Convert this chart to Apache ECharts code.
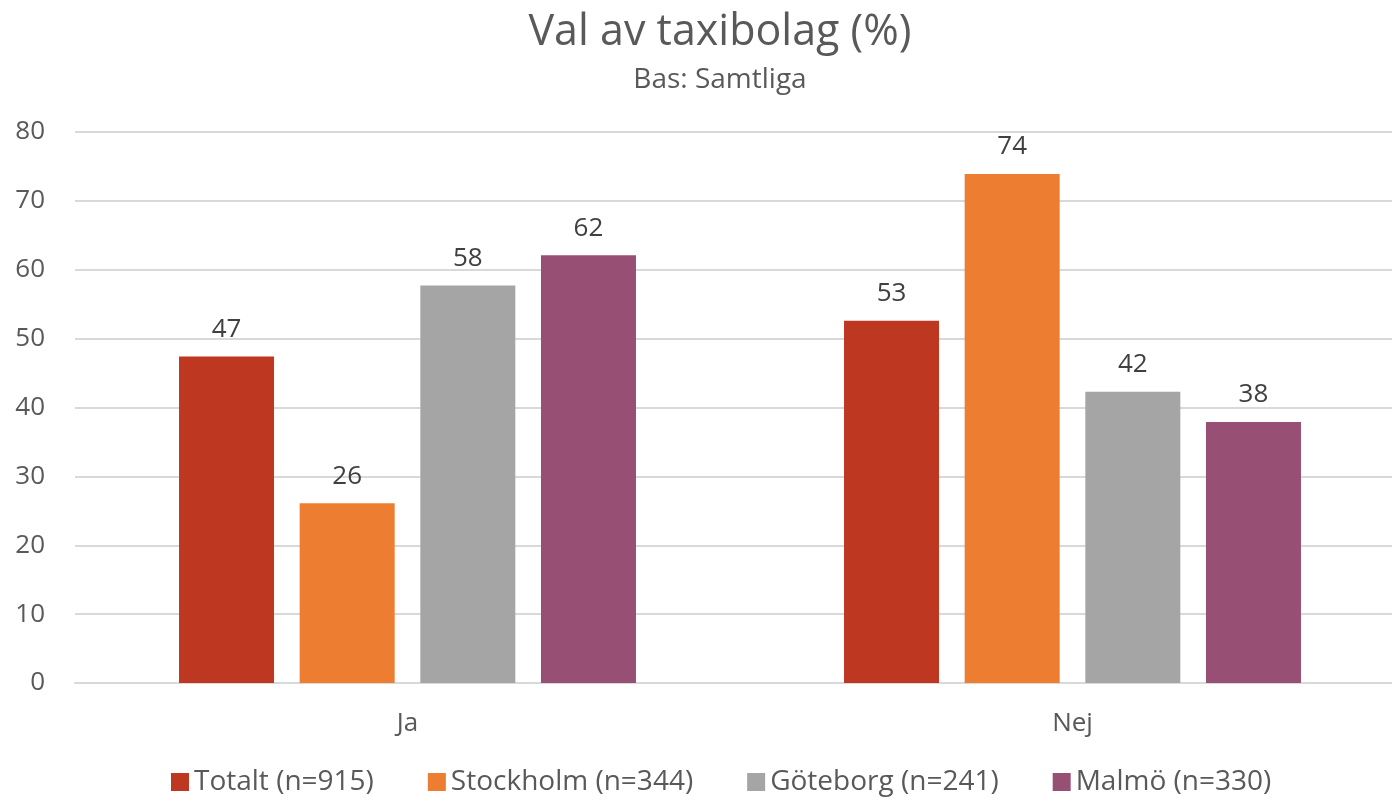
<!DOCTYPE html>
<html>
<head>
<meta charset="utf-8">
<script src="https://cdn.jsdelivr.net/npm/echarts@6/dist/echarts.min.js"></script>
<style>
  html, body { margin: 0; padding: 0; background: #fff; }
  #chart { width: 1392px; height: 801px; }
</style>
</head>
<body>
<div id="chart"></div>
<script>
// svarsalternativ
var categories = ['Ja', 'Nej'];
var seriesNames = ['Totalt (n=915)', 'Stockholm (n=344)', 'Göteborg (n=241)', 'Malmö (n=330)'];
var totalt = [47.4, 52.6];
var stockholm = [26.1, 73.9];
var goteborg = [57.7, 42.3];
var malmo = [62.1, 37.9];
var colors = ['#BE3720', '#ED7D31', '#A5A5A5', '#984F74'];

var font = 'Open Sans';
var allValues = [totalt, stockholm, goteborg, malmo];

var series = allValues.map(function (vals, i) {
  return {
    name: seriesNames[i],
    type: 'bar',
    data: vals,
    barWidth: 95,
    barGap: '27%',
    itemStyle: { color: colors[i] },
    label: {
      show: true,
      position: 'top',
      distance: 14,
      fontFamily: font,
      fontSize: 26,
      color: '#404040',
      formatter: function (p) { return Math.round(p.value); }
    }
  };
});

var option = {
  animation: false,
  textStyle: { fontFamily: font },
  title: {
    text: 'Val av taxibolag (%)',
    subtext: 'Bas: Samtliga',
    left: 715,
    textAlign: 'center',
    top: 6,
    itemGap: 12,
    textStyle: { fontFamily: font, fontSize: 43, fontWeight: 'normal', color: '#595959' },
    subtextStyle: { fontFamily: font, fontSize: 28, color: '#595959' }
  },
  legend: {
    bottom: 0,
    left: 166,
    itemWidth: 18,
    itemHeight: 18,
    itemGap: 54,
    icon: 'rect',
    textStyle: { fontFamily: font, fontSize: 28, color: '#595959' },
    data: seriesNames
  },
  grid: { left: 75, top: 132, width: 1330, height: 551, outerBoundsMode: 'none' },
  xAxis: {
    type: 'category',
    data: categories,
    axisLine: { lineStyle: { color: '#D9D9D9', width: 2 } },
    axisTick: { show: false },
    axisLabel: { fontFamily: font, fontSize: 26, color: '#595959', margin: 28 }
  },
  yAxis: {
    type: 'value',
    min: 0,
    max: 80,
    interval: 10,
    axisLine: { show: false },
    axisTick: { show: false },
    splitLine: { lineStyle: { color: '#D9D9D9', width: 2 } },
    axisLabel: { fontFamily: font, fontSize: 26, color: '#595959', margin: 30 }
  },
  series: series
};

echarts.init(document.getElementById('chart')).setOption(option);
</script>
</body>
</html>
